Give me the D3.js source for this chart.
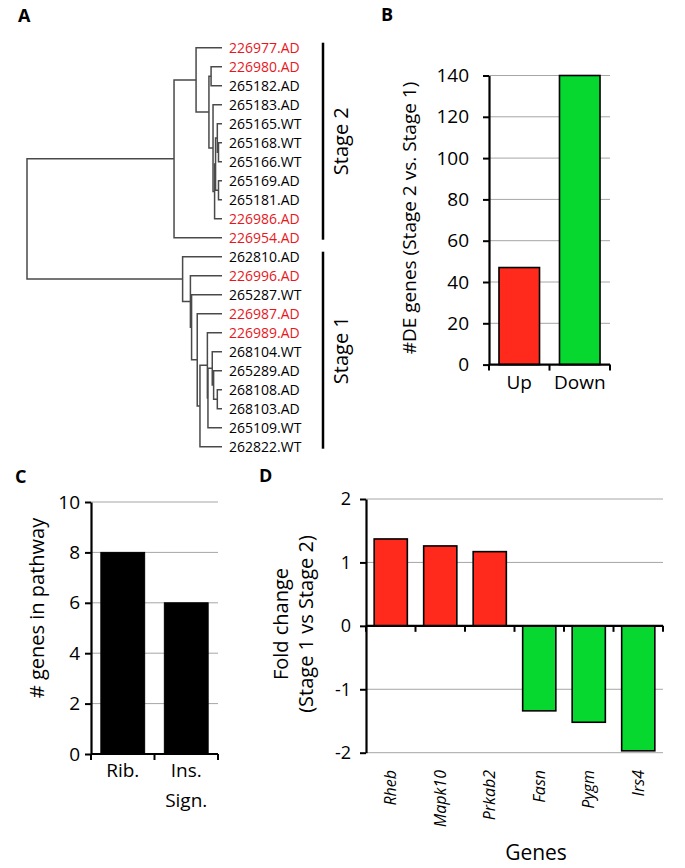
<!DOCTYPE html>
<html><head><meta charset="utf-8">
<script src="https://cdn.jsdelivr.net/npm/d3@7"></script>
<style>
body{margin:0;background:#fff}
svg{display:block;font-family:"Open Sans",sans-serif}
</style>
</head><body>
<svg id="c" width="685" height="868"></svg>
<script>
// ---------- Panel A data ----------
const leafNames = ["226977.AD","226980.AD","265182.AD","265183.AD","265165.WT","265168.WT","265166.WT","265169.AD","265181.AD","226986.AD","226954.AD","262810.AD","226996.AD","265287.WT","226987.AD","226989.AD","268104.WT","265289.AD","268108.AD","268103.AD","265109.WT","262822.WT"];
const redLeaves = ["226977.AD","226980.AD","226986.AD","226954.AD","226996.AD","226987.AD","226989.AD"];
// [childA, childB, height]; numbers = leaf index, "m#" = earlier merge
const merges = [
  [1,2,0.056],[5,6,0.018],[4,"m1",0.024],[7,8,0.018],["m2","m3",0.033],
  ["m4",9,0.038],[3,"m5",0.046],["m0","m6",0.067],[0,"m7",0.133],["m8",10,0.246],
  [18,19,0.024],[17,"m10",0.043],[16,"m11",0.050],["m12",20,0.072],[15,"m13",0.075],
  ["m14",21,0.113],[14,"m15",0.127],[13,"m16",0.156],[12,"m17",0.162],[11,"m18",0.202],
  ["m9","m19",1.0]
];
const stageLabels = ["Stage 2","Stage 1"];
const stageFirst = ["226977.AD","262810.AD"];
const stageLast = ["226954.AD","262822.WT"];

// ---------- Panel B data ----------
const deCategories = ["Up","Down"];
const deValues = [47,140];
const deTicks = [0,20,40,60,80,100,120,140];

// ---------- Panel C data ----------
const pathCategories = ["Rib.","Ins. Sign."];
const pathLabelLines = [["Rib."],["Ins.","Sign."]];
const pathValues = [8,6];
const pathTicks = [0,2,4,6,8,10];

// ---------- Panel D data ----------
const genes = ["Rheb","Mapk10","Prkab2","Fasn","Pygm","Irs4"];
const foldChanges = [1.37,1.26,1.17,-1.34,-1.52,-1.97];
const fcTicks = [-2,-1,0,1,2];

const RED = "#ff2a1c", GREEN = "#07d82f", GRID = "#a6a6a6";
const svg = d3.select("#c");
svg.append("rect").attr("width",685).attr("height",868).attr("fill","#fff");

// panel letters
[["A",18,22],["B",381,21],["C",15,483],["D",259,482]].forEach(([t,x,y])=>{
  svg.append("text").attr("x",x).attr("y",y).attr("font-size",18).attr("font-weight","bold").text(t);
});

// ---------- Panel A: dendrogram ----------
{
  const g = svg.append("g");
  const yLeaf = d3.scalePoint().domain(leafNames).range([47.7,446.7]);
  const xH = d3.scaleLinear().domain([0,1]).range([222,27]);
  const nodeY = {}, nodeH = {};
  const key = c => typeof c === "number" ? "L"+c : c;
  leafNames.forEach((n,i)=>{ nodeY["L"+i]=yLeaf(n); nodeH["L"+i]=0; });
  merges.forEach(([a,b,h],i)=>{
    const ka=key(a), kb=key(b), k="m"+i;
    nodeY[k]=(nodeY[ka]+nodeY[kb])/2; nodeH[k]=h;
    const x=xH(h);
    g.append("path")
      .attr("d",`M${xH(nodeH[ka])},${nodeY[ka]}H${x}V${nodeY[kb]}H${xH(nodeH[kb])}`)
      .attr("fill","none").attr("stroke","#4a4a4a").attr("stroke-width",1.5);
  });
  g.selectAll("text.leaf").data(leafNames).join("text").attr("class","leaf")
    .attr("x",229).attr("y",d=>yLeaf(d)).attr("dy","0.36em")
    .attr("font-size",14)
    .attr("fill",d=>redLeaves.includes(d)?"#e8171c":"#000")
    .text(d=>d);
  stageLabels.forEach((s,i)=>{
    const y0 = yLeaf(stageFirst[i]) - 5, y1 = yLeaf(stageLast[i]) + 2;
    g.append("line").attr("x1",323).attr("x2",323).attr("y1",y0).attr("y2",y1)
      .attr("stroke","#000").attr("stroke-width",2.5);
    g.append("text").attr("transform",`translate(348,${(y0+y1)/2}) rotate(-90)`)
      .attr("text-anchor","middle").attr("font-size",20).text(s);
  });
}

// generic helpers
function gridLines(g, y, ticks, x0, x1, keep){
  g.selectAll(null).data(ticks.filter(keep)).join("line")
    .attr("x1",x0).attr("x2",x1).attr("y1",d=>y(d)).attr("y2",d=>y(d))
    .attr("stroke",GRID).attr("stroke-width",1);
}
function drawYAxis(g, y, ticks, x0, fs, pad){
  const ax = g.append("g").attr("transform",`translate(${x0},0)`)
    .call(d3.axisLeft(y).tickValues(ticks).tickSize(6).tickSizeOuter(0).tickPadding(pad)
      .tickFormat(d=>String(d)));
  ax.select(".domain").attr("stroke","#000").attr("stroke-width",2.2);
  ax.selectAll(".tick line").attr("stroke","#000").attr("stroke-width",2);
  ax.selectAll(".tick text").attr("font-size",fs).attr("fill","#000")
    .attr("font-family","Open Sans, sans-serif");
}
function drawXBase(g, x, yPos){
  const step = x.step(), p = x.paddingInner();
  const bounds = x.domain().map(d=>x(d)-step*p/2).concat([x.range()[1]]);
  g.append("line").attr("x1",x.range()[0]).attr("x2",x.range()[1])
    .attr("y1",yPos).attr("y2",yPos).attr("stroke","#000").attr("stroke-width",2.2);
  g.selectAll(null).data(bounds).join("line")
    .attr("x1",d=>d).attr("x2",d=>d).attr("y1",yPos).attr("y2",yPos+6)
    .attr("stroke","#000").attr("stroke-width",2);
}

// ---------- Panel B ----------
{
  const g = svg.append("g");
  const y = d3.scaleLinear().domain([0,140]).range([364.6,75.5]);
  const x = d3.scaleBand().domain(deCategories).range([489,610]).paddingInner(0.33).paddingOuter(0.165);
  gridLines(g,y,deTicks,489,610,t=>t>0);
  g.selectAll(null).data(deCategories).join("rect")
    .attr("x",d=>x(d)).attr("width",x.bandwidth())
    .attr("y",(d,i)=>y(deValues[i])).attr("height",(d,i)=>y(0)-y(deValues[i]))
    .attr("fill",(d,i)=>i===0?RED:GREEN).attr("stroke","#000").attr("stroke-width",1.6);
  drawYAxis(g,y,deTicks,489,19,14);
  drawXBase(g,x,y(0));
  g.selectAll(null).data(deCategories).join("text")
    .attr("x",d=>x(d)+x.bandwidth()/2).attr("y",389).attr("text-anchor","middle")
    .attr("font-size",19).text(d=>d);
  g.append("text").attr("transform",`translate(416,218) rotate(-90)`)
    .attr("text-anchor","middle").attr("font-size",19).text("#DE genes (Stage 2 vs. Stage 1)");
}

// ---------- Panel C ----------
{
  const g = svg.append("g");
  const y = d3.scaleLinear().domain([0,10]).range([754,502]);
  const x = d3.scaleBand().domain(pathCategories).range([91,218]).paddingInner(0.31).paddingOuter(0.155);
  gridLines(g,y,pathTicks,91,218,t=>t>0);
  g.selectAll(null).data(pathCategories).join("rect")
    .attr("x",d=>x(d)).attr("width",x.bandwidth())
    .attr("y",(d,i)=>y(pathValues[i])).attr("height",(d,i)=>y(0)-y(pathValues[i]))
    .attr("fill","#000").attr("stroke","#000").attr("stroke-width",1);
  drawYAxis(g,y,pathTicks,91,19,5);
  drawXBase(g,x,y(0));
  pathCategories.forEach((c,i)=>{
    pathLabelLines[i].forEach((ln,j)=>{
      g.append("text").attr("x",x(c)+x.bandwidth()/2).attr("y",777+j*30)
        .attr("text-anchor","middle").attr("font-size",19).text(ln);
    });
  });
  g.append("text").attr("transform",`translate(44,608) rotate(-90)`)
    .attr("text-anchor","middle").attr("font-size",20).text("# genes in pathway");
}

// ---------- Panel D ----------
{
  const g = svg.append("g");
  const y = d3.scaleLinear().domain([-2,2]).range([752.7,499]);
  const x = d3.scaleBand().domain(genes).range([366,663]).paddingInner(0.33).paddingOuter(0.165);
  gridLines(g,y,fcTicks,366,663,t=>t!==0);
  g.selectAll(null).data(genes).join("rect")
    .attr("x",d=>x(d)).attr("width",x.bandwidth())
    .attr("y",(d,i)=>Math.min(y(foldChanges[i]),y(0)))
    .attr("height",(d,i)=>Math.abs(y(foldChanges[i])-y(0)))
    .attr("fill",(d,i)=>foldChanges[i]>0?RED:GREEN).attr("stroke","#000").attr("stroke-width",1.6);
  drawYAxis(g,y,fcTicks,366,18,9);
  drawXBase(g,x,y(0));
  g.selectAll(null).data(genes).join("text")
    .attr("transform",d=>`translate(${x(d)+x.bandwidth()/2},770) rotate(-90)`)
    .attr("dy","0.35em").attr("text-anchor","end").attr("font-size",16)
    .attr("font-style","italic").text(d=>d);
  g.append("text").attr("x",536).attr("y",860).attr("text-anchor","middle")
    .attr("font-size",21).text("Genes");
  g.append("text").attr("transform",`translate(288,624) rotate(-90)`)
    .attr("text-anchor","middle").attr("font-size",20).text("Fold change");
  g.append("text").attr("transform",`translate(313,624) rotate(-90)`)
    .attr("text-anchor","middle").attr("font-size",20).text("(Stage 1 vs Stage 2)");
}
</script>
</body></html>
